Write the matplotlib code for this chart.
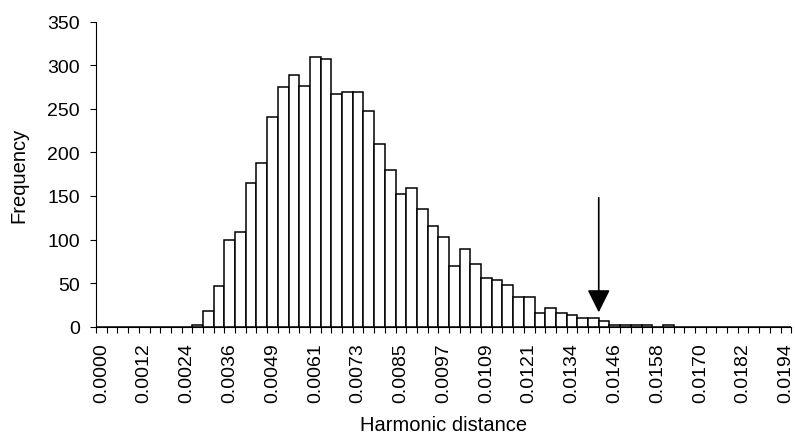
import numpy as np
import matplotlib
matplotlib.use("Agg")
import matplotlib.pyplot as plt

plt.rcParams['font.family'] = ['Liberation Sans', 'DejaVu Sans']

# counts per bin (65 bins, step ~0.0003)
counts = [0, 0, 0, 0, 0, 0, 0, 0, 0, 2,
          18, 47, 100, 109, 165, 188, 241, 275, 289, 276,
          309, 307, 267, 269, 269, 248, 210, 180, 152, 159,
          135, 115, 103, 70, 89, 72, 56, 54, 48, 34,
          34, 16, 21, 16, 14, 10, 10, 7, 2, 2,
          2, 2, 0, 2, 0, 0, 0, 0, 0, 0,
          0, 0, 0, 0, 0]
tick_labels = ["0.0000", "0.0012", "0.0024", "0.0036", "0.0049", "0.0061",
               "0.0073", "0.0085", "0.0097", "0.0109", "0.0121", "0.0134",
               "0.0146", "0.0158", "0.0170", "0.0182", "0.0194"]
label_every = 4
# observed value marker (arrow), in bin units
obs_bin = 46.5
arrow_top = 148
arrow_tip = 16.5

fig = plt.figure(figsize=(7.95, 4.39), dpi=100)
ax = fig.add_axes([0.1208, 0.2535, 0.8745, 0.6948])

idx = np.arange(len(counts))
ax.bar(idx, counts, width=1.0, color="white", edgecolor="black", linewidth=1.1)

ax.set_xlim(-0.5, len(counts) - 0.5)
ax.set_ylim(0, 350)
ax.set_yticks(range(0, 351, 50))

ax.set_xticks(idx[::label_every])
ax.set_xticklabels(tick_labels, rotation=90)
ax.set_xticks(np.arange(-0.5, len(counts)), minor=True)
ax.tick_params(axis="x", which="major", length=0, pad=11, labelsize=14)
ax.tick_params(axis="x", which="minor", length=4, width=0.8, direction="out")
ax.tick_params(axis="y", length=4, width=0.8, pad=7.5, labelsize=14)

for s in ["top", "right"]:
    ax.spines[s].set_visible(False)
for s in ["left", "bottom"]:
    ax.spines[s].set_linewidth(0.8)

ax.annotate("", xy=(obs_bin, arrow_tip), xytext=(obs_bin, arrow_top),
            arrowprops=dict(arrowstyle="-|>,head_length=0.7,head_width=0.35",
                            mutation_scale=20, color="black", lw=1.2,
                            shrinkA=0, shrinkB=0))

ax.set_ylabel("Frequency", fontsize=14.5)
ax.yaxis.set_label_coords(-0.0976, 0.5)
ax.set_xlabel("Harmonic distance", fontsize=14.5)
ax.xaxis.set_label_coords(0.5, -0.29)

fig.savefig("out.png", dpi=100)
